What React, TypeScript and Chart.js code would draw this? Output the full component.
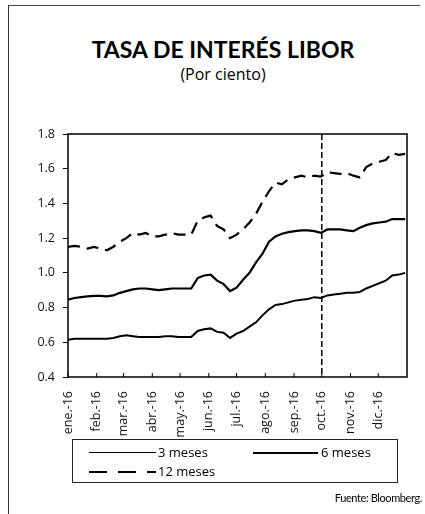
import React, { useEffect, useRef } from "react";
import { Chart, registerables } from "chart.js";

Chart.register(...registerables);

// Day of year 2016 (0 = 1 Jan), weekly samples
const days = [
  0, 7, 14, 21, 28, 35, 42, 49, 56, 63, 70, 77, 84, 91, 98, 105, 112, 119, 126, 133,
  140, 147, 154, 161, 168, 175, 182, 189, 196, 203, 210, 217, 224, 231, 238, 245, 252,
  259, 266, 273, 280, 287, 294, 301, 308, 315, 322, 329, 336, 343, 350, 357, 364,
];

const meses3 = [
  0.615, 0.62, 0.62, 0.62, 0.62, 0.62, 0.62, 0.625, 0.635, 0.64, 0.635, 0.63, 0.63, 0.63,
  0.63, 0.635, 0.635, 0.63, 0.63, 0.63, 0.665, 0.675, 0.68, 0.66, 0.655, 0.625, 0.65,
  0.665, 0.69, 0.715, 0.755, 0.79, 0.815, 0.82, 0.83, 0.84, 0.845, 0.85, 0.86, 0.855,
  0.87, 0.875, 0.88, 0.885, 0.885, 0.89, 0.91, 0.925, 0.94, 0.955, 0.985, 0.99, 1.0,
];

const meses6 = [
  0.845, 0.855, 0.86, 0.865, 0.867, 0.867, 0.865, 0.87, 0.885, 0.895, 0.905, 0.91, 0.91,
  0.905, 0.9, 0.905, 0.91, 0.91, 0.91, 0.91, 0.97, 0.985, 0.99, 0.955, 0.935, 0.895,
  0.915, 0.96, 1.0, 1.06, 1.11, 1.18, 1.21, 1.225, 1.235, 1.24, 1.245, 1.245, 1.24, 1.23,
  1.25, 1.25, 1.25, 1.245, 1.24, 1.26, 1.275, 1.285, 1.29, 1.295, 1.31, 1.31, 1.31,
];

const meses12 = [
  1.15, 1.155, 1.15, 1.14, 1.15, 1.14, 1.13, 1.15, 1.18, 1.2, 1.23, 1.22, 1.23, 1.21,
  1.21, 1.22, 1.23, 1.22, 1.22, 1.22, 1.3, 1.32, 1.33, 1.27, 1.25, 1.2, 1.22, 1.25, 1.29,
  1.34, 1.41, 1.47, 1.52, 1.51, 1.54, 1.55, 1.56, 1.55, 1.56, 1.555, 1.58, 1.575, 1.57,
  1.575, 1.56, 1.55, 1.61, 1.63, 1.64, 1.65, 1.69, 1.68, 1.685,
];

const monthStarts = [0, 31, 60, 91, 121, 152, 182, 213, 244, 274, 305, 335];
const monthLabels = [
  "ene.-16", "feb.-16", "mar.-16", "abr.-16", "may.-16", "jun.-16",
  "jul.-16", "ago.-16", "sep.-16", "oct.-16", "nov.-16", "dic.-16",
];
const markerDay = 274;

const FONT = "'Open Sans', sans-serif";
const FONT_T = "Lato, sans-serif";

const framePlugin = {
  id: "frame",
  afterDatasetsDraw(chart: any) {
    const { ctx, chartArea, scales } = chart;
    ctx.save();
    const xm = scales.x.getPixelForValue(markerDay);
    ctx.strokeStyle = "#000";
    ctx.lineWidth = 1.5;
    ctx.setLineDash([6, 3]);
    ctx.beginPath();
    ctx.moveTo(xm, chartArea.top);
    ctx.lineTo(xm, chartArea.bottom);
    ctx.stroke();
    ctx.setLineDash([]);
    ctx.lineWidth = 1.5;
    ctx.strokeRect(chartArea.left, chartArea.top, chartArea.right - chartArea.left, chartArea.bottom - chartArea.top);
    ctx.lineWidth = 1;
    monthStarts.forEach((d) => {
      const x = scales.x.getPixelForValue(d);
      ctx.beginPath();
      ctx.moveTo(x, chartArea.bottom);
      ctx.lineTo(x, chartArea.bottom - 4);
      ctx.stroke();
    });
    ctx.restore();
  },
};

function toPoints(vals: number[]) {
  return vals.map((v, i) => ({ x: days[i], y: v }));
}

export default function App() {
  const ref = useRef<HTMLCanvasElement | null>(null);

  useEffect(() => {
    if (!ref.current) return;
    const chart = new Chart(ref.current, {
      type: "line",
      data: {
        datasets: [
          { label: "3 meses", data: toPoints(meses3), borderColor: "#000", borderWidth: 2, pointRadius: 0, tension: 0 },
          { label: "6 meses", data: toPoints(meses6), borderColor: "#000", borderWidth: 2.2, pointRadius: 0, tension: 0 },
          { label: "12 meses", data: toPoints(meses12), borderColor: "#000", borderWidth: 2.2, borderDash: [12, 7], pointRadius: 0, tension: 0 },
        ],
      },
      options: {
        animation: false,
        responsive: false,
        maintainAspectRatio: false,
        layout: { padding: { top: 134, right: 18, left: 0, bottom: 0 } },
        plugins: { legend: { display: false }, tooltip: { enabled: false }, title: { display: false } },
        scales: {
          x: {
            type: "linear",
            min: 0,
            max: 366,
            afterBuildTicks: (scale: any) => {
              scale.ticks = monthStarts.map((v) => ({ value: v }));
            },
            afterFit: (scale: any) => {
              scale.height = 63;
            },
            grid: { display: false },
            border: { display: false },
            ticks: {
              autoSkip: false,
              minRotation: 90,
              maxRotation: 90,
              padding: 6,
              color: "#111",
              font: { family: FONT, size: 12.5 },
              callback: (_v: any, i: number) => monthLabels[i],
            },
          },
          y: {
            min: 0.4,
            max: 1.8,
            afterFit: (scale: any) => {
              scale.width = 68;
            },
            grid: { drawOnChartArea: false, tickLength: 5, color: "#000" },
            border: { display: false },
            ticks: {
              stepSize: 0.2,
              padding: 8,
              color: "#111",
              font: { family: FONT, size: 12.5 },
              callback: (v: any) => Number(v).toFixed(1),
            },
          },
        },
      },
      plugins: [framePlugin],
    } as any);
    return () => chart.destroy();
  }, []);

  const dashBg = "repeating-linear-gradient(to right, #000 0 18px, transparent 18px 29px)";

  return (
    <div style={{ position: "absolute", left: 0, top: 0, width: 425, height: 514, background: "#fff", fontFamily: FONT, color: "#000", overflow: "hidden" }}>
      <div style={{ position: "absolute", left: 8, top: 5, width: 412, height: 0, borderTop: "1.5px solid #444" }} />
      <div style={{ position: "absolute", left: 8, top: 5, width: 0, height: 509, borderLeft: "1.5px solid #333" }} />
      <div style={{ position: "absolute", left: 0, top: 35, width: 446, textAlign: "center", fontWeight: 700, fontSize: 23, fontFamily: FONT_T }}>
        TASA DE INTERÉS LIBOR
      </div>
      <div style={{ position: "absolute", left: 0, top: 63, width: 446, textAlign: "center", fontSize: 16 }}>
        (Por ciento)
      </div>
      <canvas ref={ref} width={425} height={440} style={{ position: "absolute", left: 0, top: 0, width: 425, height: 440 }} />
      <div style={{ position: "absolute", left: 72, top: 439, width: 326, height: 44, border: "1.5px solid #222", boxSizing: "border-box" }}>
        <div style={{ position: "absolute", left: 16, top: 12, width: 67, height: 0, borderTop: "1.5px solid #000" }} />
        <div style={{ position: "absolute", left: 85, top: 3, fontSize: 13 }}>3 meses</div>
        <div style={{ position: "absolute", left: 180, top: 12, width: 65, height: 0, borderTop: "2px solid #000" }} />
        <div style={{ position: "absolute", left: 248, top: 3, fontSize: 13 }}>6 meses</div>
        <div style={{ position: "absolute", left: 16, top: 31, width: 67, height: 2, background: dashBg }} />
        <div style={{ position: "absolute", left: 85, top: 22, fontSize: 13 }}>12 meses</div>
      </div>
      <div style={{ position: "absolute", right: 3, top: 491, fontSize: 11, fontFamily: FONT_T, letterSpacing: -0.4 }}>Fuente: Bloomberg.</div>
    </div>
  );
}
